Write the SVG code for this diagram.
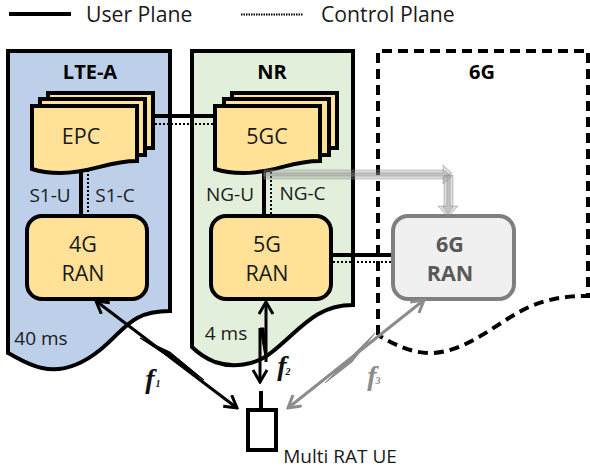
<svg xmlns="http://www.w3.org/2000/svg" width="590" height="470" viewBox="0 0 590 470">
<style>
text{font-family:"Open Sans","Liberation Sans",sans-serif;fill:#1a1a1a;font-size:19px;text-anchor:middle}
.title{font-weight:700;font-size:20px;fill:#000}
.leg{font-size:21.200px;text-anchor:start}
.big{font-size:21.500px}
.dom{stroke:#000;stroke-width:4;stroke-linejoin:miter}
.doc{fill:#ffe298;stroke:#000;stroke-width:4}
.ran{fill:#ffe298;stroke:#000;stroke-width:4}
.u{stroke:#000;stroke-width:4;fill:none}
.c{stroke:#000;stroke-width:2;stroke-dasharray:2 2;fill:none}
.ga{fill:#8c8c8c;fill-opacity:.3;stroke:#8c8c8c;stroke-opacity:.45}
.f{font-family:"Liberation Serif",serif;font-style:italic;font-weight:700;font-size:28px;fill:#111}
.fs{font-family:"Liberation Serif",serif;font-style:italic;font-weight:700;font-size:10px;fill:#111}
</style>
<defs>
<path id="wave" d="M0 0H105V55C75 55 60 67 28 67C14 67 6 65 0 63Z"/>
<marker id="ah" markerWidth="16" markerHeight="16" refX="14" refY="8" orient="auto-start-reverse" markerUnits="userSpaceOnUse"><path d="M2 1L14 8L2 15" fill="none" stroke="#000" stroke-width="3"/></marker>
<marker id="ag" markerWidth="16" markerHeight="16" refX="14" refY="8" orient="auto-start-reverse" markerUnits="userSpaceOnUse"><path d="M2 1L14 8L2 15" fill="none" stroke="#8c8c8c" stroke-width="3"/></marker>
</defs>
<g id="legend">
<line x1="9" y1="14" x2="71" y2="14" stroke="#000" stroke-width="4"/>
<text class="leg" x="86" y="22">User Plane</text>
<line x1="241" y1="14.500" x2="303" y2="14.500" stroke="#000" stroke-width="2" stroke-dasharray="1.500 1"/>
<text class="leg" x="321" y="22">Control Plane</text>
</g>
<g id="LTE-A">
<path class="dom" fill="#bdcfe9" d="M8 51H170V311C130 311 125 330 100 350C80 366 60 372 42 368C28 365 18 358 8 353Z"/>
<text class="title" x="90" y="79">LTE-A</text>
<text x="41" y="345">40 ms</text>
</g>
<g id="NR">
<path class="dom" fill="#e2efda" d="M192 51H353V305C315 305 300 330 272 352C255 366 232 368 215 362C205 358 198 353 192 347Z"/>
<text class="title" x="272" y="79">NR</text>
<text x="226" y="340">4 ms</text>
</g>
<g id="g6G">
<path fill="#fff" stroke="#000" stroke-width="4" stroke-dasharray="10 6" d="M378 335V51H588V296C565 296 545 299 525 309C495 324 465 353 430 353C412 353 395 345 378 335"/>
<text class="title" x="482" y="79">6G</text>
</g>
<g id="connectors">
<line class="u" x1="150" y1="116" x2="216" y2="116"/>
<line class="c" x1="155" y1="124" x2="214" y2="124"/>
<line class="u" x1="81" y1="170" x2="81" y2="216"/>
<line class="c" x1="88" y1="170" x2="88" y2="216"/>
<line class="u" x1="264" y1="172" x2="264" y2="216"/>
<line class="c" x1="271" y1="172" x2="271" y2="216"/>
<line class="u" x1="330" y1="255" x2="393" y2="255"/>
<line class="c" x1="333" y1="262" x2="392" y2="262"/>
</g>
<g id="EPC">
<path class="doc" d="M48 93H153V148H48Z"/>
<path class="doc" d="M40 99H145V155H40Z"/>
<use href="#wave" class="doc" x="32" y="106"/>
<text class="big" x="81" y="144">EPC</text>
</g>
<g id="g5GC">
<path class="doc" d="M232 93H337V148H232Z"/>
<path class="doc" d="M224 99H329V155H224Z"/>
<use href="#wave" class="doc" x="215" y="106"/>
<text class="big" x="267" y="144">5GC</text>
</g>
<g id="RAN4G">
<rect class="ran" x="27" y="216" width="120" height="83" rx="15"/>
<text class="big" x="83" y="252">4G</text>
<text class="big" x="83" y="281">RAN</text>
</g>
<g id="RAN5G">
<rect class="ran" x="211" y="216" width="120" height="83" rx="15"/>
<text class="big" x="267" y="252">5G</text>
<text class="big" x="267" y="281">RAN</text>
</g>
<g id="RAN6G">
<rect x="393" y="216" width="121" height="83" rx="15" fill="#f0f0f0" stroke="#7f7f7f" stroke-width="4"/>
<text class="big" x="450" y="252" style="fill:#595959;font-weight:700">6G</text>
<text class="big" x="450" y="281" style="fill:#595959;font-weight:700">RAN</text>
</g>
<g id="labels">
<text x="50" y="202">S1-U</text>
<text x="115" y="202">S1-C</text>
<text x="230" y="201">NG-U</text>
<text x="302.500" y="200">NG-C</text>
</g>
<g id="arrows">
<path class="ga" d="M264 170H443V165L452 173L443 179V176H264Z"/>
<path class="ga" d="M264 173H443V170L452 176L443 184V179H264Z"/>
<path class="ga" d="M444 175H450V206H453L447 216L438 206H444Z"/>
<path class="ga" d="M447 175H453V206H458L449 216L443 206H447Z"/>
<line x1="96" y1="301" x2="237" y2="408" stroke="#000" stroke-width="3" marker-start="url(#ah)" marker-end="url(#ah)"/>
<path d="M140 338L204 380L170 352Z" fill="#000" stroke="#000"/>
<line x1="266" y1="302" x2="266" y2="362" stroke="#000" stroke-width="3" marker-start="url(#ah)"/>
<line x1="260" y1="328" x2="260" y2="382" stroke="#000" stroke-width="3" marker-end="url(#ah)"/>
<path d="M260 328L266 362L264 328Z" fill="#000" stroke="#000"/>
<line x1="424" y1="300" x2="288" y2="408" stroke="#8c8c8c" stroke-width="3" marker-start="url(#ag)" marker-end="url(#ag)"/>
<path d="M375 333L325 383L352 362Z" fill="#8c8c8c" stroke="#8c8c8c"/>
</g>
<g id="UE">
<line x1="261" y1="391" x2="261" y2="410" stroke="#000" stroke-width="4"/>
<rect x="248" y="410" width="28" height="40" fill="#fff" stroke="#000" stroke-width="4"/>
<text x="340" y="463">Multi RAT UE</text>
</g>
<g id="f">
<text class="f" x="150" y="388">f</text><text class="fs" x="158" y="387">1</text>
<text class="f" x="282" y="375">f</text><text class="fs" x="288" y="375">2</text>
<text class="f" x="372" y="385" style="fill:#8c8c8c">f</text><text class="fs" x="378" y="384" style="fill:#8c8c8c">3</text>
</g>
</svg>
